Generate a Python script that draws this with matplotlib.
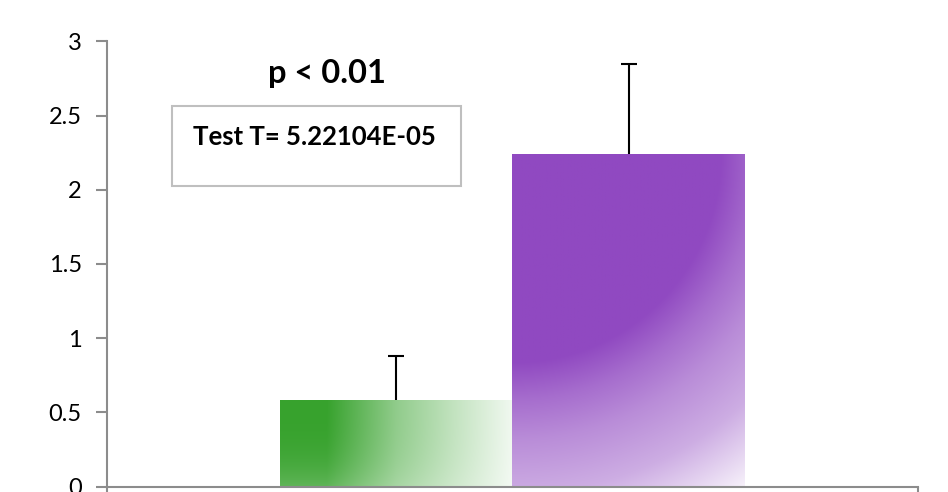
import numpy as np
import matplotlib
matplotlib.use("Agg")
import matplotlib.pyplot as plt
from matplotlib.colors import to_rgb
from matplotlib.patches import Rectangle

# data
groups = ["green", "purple"]
means = [0.58, 2.24]
errors = [0.30, 0.61]
bar_colors = ["#37a22d", "#9049c1"]
yticks = [0, 0.5, 1, 1.5, 2, 2.5, 3]
ytick_labels = ["0", "0.5", "1", "1.5", "2", "2.5", "3"]
p_text = "p < 0.01"
test_text = "Test T= 5.22104E-05"

plt.rcParams['font.family'] = ['Lato', 'DejaVu Sans']

fig = plt.figure(figsize=(9.48, 4.92), dpi=100)
ax = fig.add_axes([106.7 / 948, 5.5 / 492, (918 - 106.7) / 948, (486.5 - 41.3) / 492])

width = 0.287
offsets = [-width / 2, width / 2]
bars = ax.bar(offsets, means, width=width, color="none", edgecolor="none", zorder=2)


def green_alpha(u, v, w_px, h_px):
    s = np.interp(1 - u, [0, 0.25, 0.5, 0.8, 1.0], [0.07, 0.3, 0.55, 1.0, 1.0])
    return s * (1 - 0.2 * (1 - v) ** 3)


def purple_alpha(u, v, w_px, h_px):
    # path-like gradient: solid near the top-left, fading out towards bottom-right
    d = np.hypot(u * w_px, (1 - v) * h_px) / 220.0
    return np.interp(d, [0.95, 1.12, 1.3, 1.55, 1.85], [1.0, 0.8, 0.63, 0.45, 0.07])


shaders = [green_alpha, purple_alpha]
px_per_x = (918 - 106.7) / 1.0
px_per_y = (486.5 - 41.3) / 3.0
for rect, col, shade in zip(bars, bar_colors, shaders):
    u, v = np.meshgrid(np.linspace(0, 1, 300), np.linspace(0, 1, 300))
    a = shade(u, v, rect.get_width() * px_per_x, rect.get_height() * px_per_y)
    a = np.clip(a, 0, 1)[..., None]
    rgb = np.array(to_rgb(col))
    img = a * rgb + (1 - a) * np.ones(3)
    x0, y0 = rect.get_x(), rect.get_y()
    im = ax.imshow(img, origin="lower", aspect="auto", interpolation="bilinear",
                   extent=[x0, x0 + rect.get_width(), y0, y0 + rect.get_height()],
                   zorder=2)
    im.set_clip_path(rect)

# plus-only error bars with a cap at the top end
tops = np.array(means) + np.array(errors)
ax.vlines(offsets, means, tops, color="black", linewidth=1.5, zorder=3)
ax.plot(offsets, tops, linestyle="none", marker="_", markersize=12,
        markeredgewidth=1.5, color="black", zorder=3)

ax.set_xlim(-0.5, 0.5)
ax.set_ylim(0, 3)
ax.set_yticks(yticks)
ax.set_yticklabels(ytick_labels)
ax.set_xticks([-0.5, 0.5])
ax.set_xticklabels([])

for side in ["top", "right"]:
    ax.spines[side].set_visible(False)
for side in ["left", "bottom"]:
    ax.spines[side].set_color("#8c8c8c")
    ax.spines[side].set_linewidth(1.5)
ax.tick_params(axis="both", direction="out", length=8, width=1.5, color="#8c8c8c")
ax.tick_params(axis="y", labelsize=17, pad=10, labelcolor="black")

ax.text(0.271 - 0.5, 2.717, p_text, fontsize=23.5, fontweight="bold",
        ha="center", va="baseline", zorder=5)
ax.add_patch(Rectangle((0.081 - 0.5, 2.024), 0.356, 0.538, facecolor="white",
                       edgecolor="#bfbfbf", linewidth=1.5, zorder=4))
ax.text(0.106 - 0.5, 2.353, test_text, fontsize=18.5, fontweight="bold",
        ha="left", va="center", zorder=5)

fig.savefig("out.png", dpi=100)
